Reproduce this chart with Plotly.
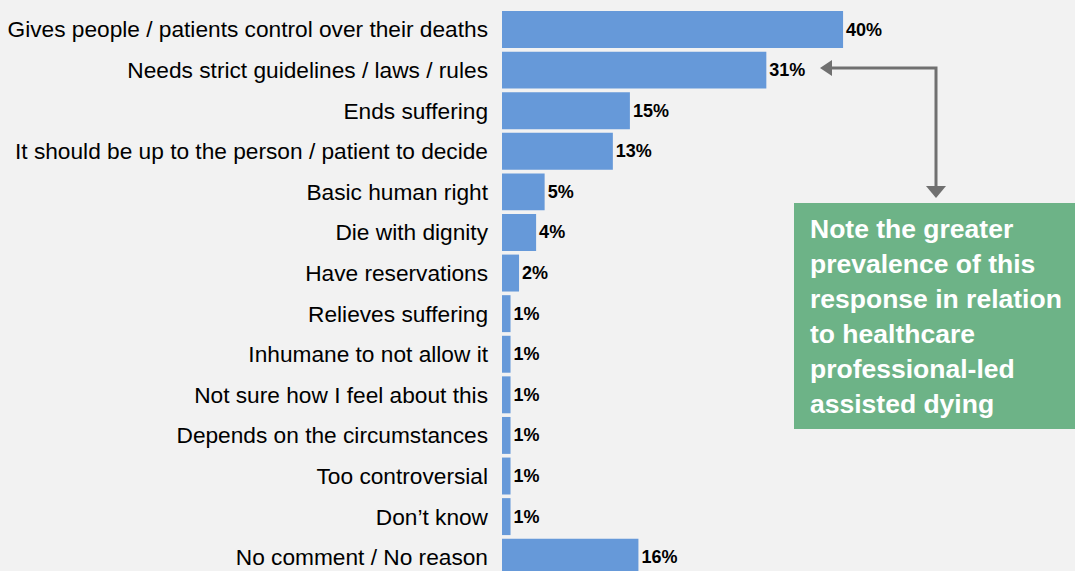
import plotly.graph_objects as go

# Survey responses and share of respondents (%)
reasons = [
    "Gives people / patients control over their deaths",
    "Needs strict guidelines / laws / rules",
    "Ends suffering",
    "It should be up to the person / patient to decide",
    "Basic human right",
    "Die with dignity",
    "Have reservations",
    "Relieves suffering",
    "Inhumane to not allow it",
    "Not sure how I feel about this",
    "Depends on the circumstances",
    "Too controversial",
    "Don\u2019t know",
    "No comment / No reason",
]
shares = [40, 31, 15, 13, 5, 4, 2, 1, 1, 1, 1, 1, 1, 16]

note_lines = [
    "Note the greater",
    "prevalence of this",
    "response in relation",
    "to healthcare",
    "professional-led",
    "assisted dying",
]

W, H = 1075, 571
LEFT = 502
BG = "#f2f2f2"
BAR = "#6699d9"
GREEN = "#6db387"
ARROW = "#707070"


def px(x):
    return (x - LEFT) / (W - LEFT)


def py(y):
    return 1 - y / H


fig = go.Figure(
    go.Bar(
        x=shares,
        y=reasons,
        orientation="h",
        marker=dict(color=BAR, line=dict(width=0)),
        text=[f"{v}%" for v in shares],
        textposition="outside",
        textfont=dict(family="Liberation Sans, Arial", size=18, color="#000000", weight="bold"),
        cliponaxis=False,
        width=0.91,
    )
)

shapes = [
    # note box
    dict(type="rect", xref="paper", yref="paper",
         x0=px(794), x1=px(1080), y0=py(429), y1=py(203),
         fillcolor=GREEN, line=dict(width=0), layer="above"),
    # connector line
    dict(type="path", xref="paper", yref="paper",
         path=f"M {px(830)} {py(68)} L {px(936)} {py(68)} L {px(936)} {py(188)}",
         line=dict(color=ARROW, width=3)),
    # arrow head pointing left
    dict(type="path", xref="paper", yref="paper",
         path=f"M {px(820)} {py(68)} L {px(832)} {py(60)} L {px(832)} {py(76)} Z",
         fillcolor=ARROW, line=dict(color=ARROW, width=0)),
    # arrow head pointing down
    dict(type="path", xref="paper", yref="paper",
         path=f"M {px(936)} {py(198)} L {px(926)} {py(186)} L {px(946)} {py(186)} Z",
         fillcolor=ARROW, line=dict(color=ARROW, width=0)),
]

annotations = []
for i, line in enumerate(note_lines):
    annotations.append(dict(
        xref="paper", yref="paper",
        x=px(808), y=py(229 + 35 * i),
        xanchor="left", yanchor="middle",
        text=line, showarrow=False,
        font=dict(family="Liberation Sans, Arial", size=26.5, color="#ffffff", weight="bold"),
    ))

fig.update_layout(
    width=W, height=H,
    margin=dict(l=LEFT, r=0, t=0, b=0),
    paper_bgcolor=BG, plot_bgcolor=BG,
    showlegend=False,
    shapes=shapes,
    annotations=annotations,
    xaxis=dict(range=[0, 67.2], visible=False, fixedrange=True),
    yaxis=dict(
        range=[13.34, -0.727],
        showgrid=False, zeroline=False, showline=False,
        ticks="", ticklabelstandoff=13,
        tickfont=dict(family="Liberation Sans, Arial", size=22.7, color="#000000"),
        fixedrange=True,
    ),
)

fig.write_html("out.html")
